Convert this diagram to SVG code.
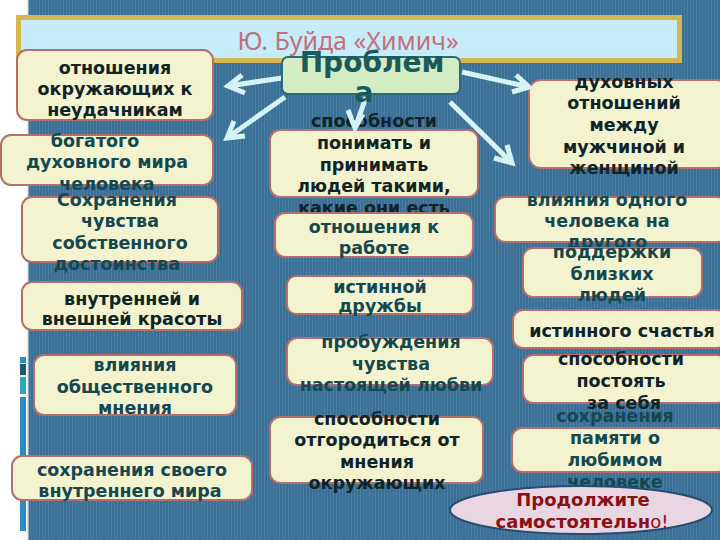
<svg xmlns="http://www.w3.org/2000/svg" width="720" height="540" viewBox="0 0 720 540">
<defs>
<pattern id="stripes" width="3" height="10" patternUnits="userSpaceOnUse">
<rect width="3" height="10" fill="#3a6f93"/>
<rect width="1" height="10" fill="#4a80a5"/>
</pattern>
</defs>
<style>
.box{fill:#f3f3d0;stroke:#b56d6d;stroke-width:2}
.t{font-family:"DejaVu Sans",Verdana,sans-serif;font-weight:bold;font-size:17.5px;text-anchor:middle}
.k{fill:#0f2427}
.g{fill:#15474f}
.arr{fill:none;stroke:#d6f3f7;stroke-width:5;stroke-linecap:butt;stroke-linejoin:miter}
</style>
<rect x="0" y="0" width="720" height="540" fill="url(#stripes)"/>
<rect x="0" y="0" width="27" height="540" fill="#ffffff"/>
<rect x="27" y="0" width="1.5" height="540" fill="#d8eef5"/>
<rect x="20" y="357" width="6" height="6" fill="#2b8dc0"/>
<rect x="20" y="364" width="6" height="11" fill="#1e5a6e"/>
<rect x="20" y="377" width="6" height="17" fill="#2aaabb"/>
<rect x="20" y="397" width="6" height="134" fill="#2a8cc0"/>
<g id="title">
<rect x="18.5" y="17.5" width="661" height="43" fill="#c6ecfa" stroke="#d6b650" stroke-width="5"/>
<text x="348" y="50" font-family="Noto Sans, sans-serif" font-size="25" fill="#c2707c" text-anchor="middle">Ю. Буйда «Химич»</text>
</g>
<g id="nA"><rect class="box" x="17" y="50" width="196" height="70" rx="10"/>
<text class="t k"><tspan x="115" y="74">отношения</tspan><tspan x="115" y="95">окружающих к</tspan><tspan x="115" y="116">неудачникам</tspan></text></g>
<g id="nB"><rect class="box" x="1" y="135" width="212" height="50" rx="10"/>
<text class="t g"><tspan x="95" y="147">богатого</tspan><tspan x="107" y="168">духовного мира</tspan><tspan x="107" y="190">человека</tspan></text></g>
<g id="nC"><rect class="box" x="22" y="197" width="196" height="65" rx="10"/>
<text class="t g"><tspan x="117" y="206">Сохранения</tspan><tspan x="120" y="227">чувства</tspan><tspan x="120" y="249">собственного</tspan><tspan x="117" y="270">достоинства</tspan></text></g>
<g id="nD"><rect class="box" x="22" y="282" width="220" height="48" rx="10"/>
<text class="t k"><tspan x="132" y="305">внутренней и</tspan><tspan x="132" y="325">внешней красоты</tspan></text></g>
<g id="nE"><rect class="box" x="34" y="355" width="202" height="60" rx="10"/>
<text class="t g"><tspan x="135" y="371">влияния</tspan><tspan x="135" y="393">общественного</tspan><tspan x="135" y="414">мнения</tspan></text></g>
<g id="nF"><rect class="box" x="12" y="456" width="240" height="44" rx="10"/>
<text class="t g"><tspan x="132" y="476">сохранения своего</tspan><tspan x="130" y="497">внутреннего мира</tspan></text></g>
<g id="nG"><rect class="box" x="270" y="130" width="208" height="67" rx="10"/>
<text class="t k"><tspan x="374" y="127">способности</tspan><tspan x="374" y="149">понимать и</tspan><tspan x="374" y="171">принимать</tspan><tspan x="374" y="192">людей такими,</tspan><tspan x="374" y="214">какие они есть</tspan></text></g>
<g id="nH"><rect class="box" x="275" y="213" width="198" height="44" rx="10"/>
<text class="t g"><tspan x="374" y="233">отношения к</tspan><tspan x="374" y="254">работе</tspan></text></g>
<g id="nI"><rect class="box" x="287" y="276" width="186" height="38" rx="9"/>
<text class="t g"><tspan x="380" y="293">истинной</tspan><tspan x="380" y="312">дружбы</tspan></text></g>
<g id="nJ"><rect class="box" x="287" y="338" width="206" height="47" rx="10"/>
<text class="t g"><tspan x="391" y="348">пробуждения</tspan><tspan x="391" y="370">чувства</tspan><tspan x="391" y="391">настоящей любви</tspan></text></g>
<g id="nK"><rect class="box" x="270" y="417" width="213" height="66" rx="10"/>
<text class="t k"><tspan x="377" y="425">способности</tspan><tspan x="377" y="446">отгородиться от</tspan><tspan x="377" y="468">мнения</tspan><tspan x="377" y="489">окружающих</tspan></text></g>
<g id="nL"><rect class="box" x="529" y="80" width="200" height="88" rx="12"/>
<text class="t k"><tspan x="624" y="88">духовных</tspan><tspan x="624" y="109">отношений</tspan><tspan x="624" y="131">между</tspan><tspan x="624" y="153">мужчиной  и</tspan><tspan x="624" y="174">женщиной</tspan></text></g>
<g id="nM"><rect class="box" x="495" y="197" width="232" height="45" rx="10"/>
<text class="t g"><tspan x="607" y="206">влияния одного</tspan><tspan x="607" y="227">человека на</tspan><tspan x="607" y="248">другого</tspan></text></g>
<g id="nN"><rect class="box" x="523" y="248" width="179" height="49" rx="10"/>
<text class="t g"><tspan x="612" y="258">поддержки</tspan><tspan x="612" y="280">близких</tspan><tspan x="612" y="301">людей</tspan></text></g>
<g id="nO"><rect class="box" x="513" y="310" width="214" height="38" rx="10"/>
<text class="t k"><tspan x="622" y="337">истинного счастья</tspan></text></g>
<g id="nP"><rect class="box" x="523" y="355" width="204" height="48" rx="10"/>
<text class="t k"><tspan x="621" y="365">способности</tspan><tspan x="621" y="387">постоять</tspan><tspan x="624" y="409">за себя</tspan></text></g>
<g id="nQ"><rect class="box" x="512" y="428" width="215" height="44" rx="10"/>
<text class="t g"><tspan x="615" y="422">сохранения</tspan><tspan x="615" y="444">памяти о</tspan><tspan x="615" y="466">любимом</tspan><tspan x="615" y="488">человеке</tspan></text></g>
<g id="connectors">
<path class="arr" d="M282,78 L228,86 M242,75 L228,86 L245,93"/>
<path class="arr" d="M285,97 L227,138 M234,121 L227,138 L245,136"/>
<path class="arr" d="M366,97 L355,128 M348,110 L355,128 L363,114"/>
<path class="arr" d="M450,102 L512,163 M507,145 L512,163 L494,158"/>
<path class="arr" d="M462,72 L529,87 M516,75 L529,87 L512,92"/>
</g>
<g id="center">
<rect x="282" y="57" width="178" height="37" rx="6" fill="#d4ecc4" stroke="#2a6a78" stroke-width="2"/>
<text font-family="DejaVu Sans, sans-serif" font-weight="bold" font-size="28" fill="#1a5a5c" text-anchor="middle"><tspan x="372" y="72">Проблем</tspan><tspan x="364" y="102">а</tspan></text>
</g>
<g id="nR">
<ellipse cx="581" cy="510" rx="131" ry="24" fill="#e8d6e2" stroke="#2a4a70" stroke-width="2"/>
<text font-family="DejaVu Sans, sans-serif" font-size="18" fill="#8a1212" text-anchor="middle"><tspan x="583" y="506" font-weight="bold">Продолжите</tspan><tspan x="582" y="528"><tspan font-weight="bold">самостоятельн</tspan>о!</tspan></text>
</g>
</svg>
